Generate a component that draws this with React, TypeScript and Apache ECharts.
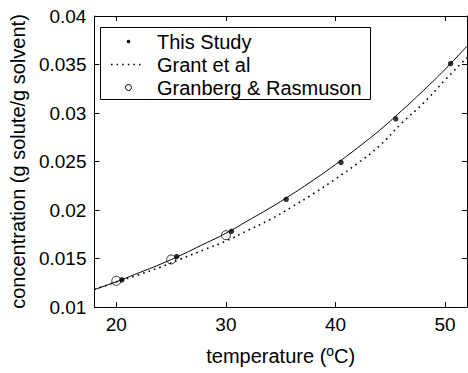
import React, { useEffect, useRef } from 'react';
import * as echarts from 'echarts';

// This Study (measured points)
const studyT = [20.5, 25.5, 30.5, 35.5, 40.5, 45.5, 50.5];
const studyC = [0.0128, 0.0152, 0.0178, 0.0211, 0.0249, 0.0294, 0.0351];
// Granberg & Rasmuson
const granbergT = [20, 25, 30];
const granbergC = [0.0127, 0.0149, 0.0174];
// curves
const curveT = [18, 20, 22, 24, 26, 28, 30, 32, 34, 36, 38, 40, 42, 44, 46, 48, 50, 52];
const fitC = [0.0118, 0.0126, 0.0135, 0.0144, 0.0154, 0.0165, 0.0176, 0.0189, 0.0202, 0.0216, 0.0231, 0.0247, 0.0264, 0.0282, 0.0302, 0.0323, 0.0345, 0.0369];
const grantC = [0.0118, 0.0126, 0.0133, 0.0141, 0.0150, 0.0159, 0.0168, 0.0179, 0.0190, 0.0203, 0.0217, 0.0232, 0.0248, 0.0266, 0.0289, 0.0310, 0.0334, 0.0357];
const xTicks = [20, 30, 40, 50];
const legendNames = ['This Study', 'Grant et al', 'Granberg & Rasmuson'];

const FONT = '"Liberation Sans", Arial, Helvetica, sans-serif';
const FS = 19;
const FT = 20;

export default function App() {
  const ref = useRef<HTMLDivElement>(null);
  useEffect(() => {
    if (!ref.current) return;
    const chart = echarts.init(ref.current, undefined, { renderer: 'svg' });
    const zip = (xs: number[], ys: number[]) => xs.map((x, i) => [x, ys[i]]);
    const axisLine = { show: true, onZero: false, lineStyle: { color: '#000', width: 1 } };
    const tickStyle = { color: '#000', width: 1 };
    chart.setOption({
      animation: false,
      backgroundColor: '#fff',
      textStyle: { fontFamily: FONT },
      grid: { left: 91, right: 1, top: 16, bottom: 58, containLabel: false },
      xAxis: [
        {
          type: 'value', min: 18, max: 52, position: 'bottom',
          axisLine,
          axisTick: { show: true, inside: true, length: 5, customValues: xTicks, lineStyle: tickStyle },
          axisLabel: { customValues: xTicks, color: '#000', fontSize: FS, fontFamily: FONT, margin: 8 },
          splitLine: { show: false },
          name: 'temperature ({sup|o}C)', nameLocation: 'middle', nameGap: 37,
          nameTextStyle: {
            color: '#000', fontSize: FT, fontFamily: FONT, lineHeight: 24,
            rich: { sup: { fontSize: 14, fontFamily: FONT, color: '#000', verticalAlign: 'top', lineHeight: 10 } },
          },
        },
        {
          type: 'value', min: 18, max: 52, position: 'top',
          axisLine,
          axisTick: { show: true, inside: true, length: 5, customValues: xTicks, lineStyle: tickStyle },
          axisLabel: { show: false },
          splitLine: { show: false },
        },
      ],
      yAxis: [
        {
          type: 'value', min: 0.01, max: 0.04, interval: 0.005, position: 'left',
          axisLine,
          axisTick: { show: true, inside: true, length: 5, lineStyle: tickStyle },
          axisLabel: { color: '#000', fontSize: FS, fontFamily: FONT, margin: 8 },
          splitLine: { show: false },
          name: 'concentration (g solute/g solvent)', nameLocation: 'middle', nameGap: 59,
          nameTextStyle: { color: '#000', fontSize: FT, fontFamily: FONT },
        },
        {
          type: 'value', min: 0.01, max: 0.04, interval: 0.005, position: 'right',
          axisLine,
          axisTick: { show: true, inside: true, length: 5, lineStyle: tickStyle },
          axisLabel: { show: false },
          splitLine: { show: false },
        },
      ],
      series: [
        {
          name: 'fit', type: 'line', data: zip(curveT, fitC), smooth: true, showSymbol: false, symbol: 'none',
          lineStyle: { color: '#000', width: 1 }, z: 2,
        },
        {
          name: legendNames[1], type: 'line', data: zip(curveT, grantC), smooth: true, showSymbol: false, symbol: 'none',
          lineStyle: { color: '#000', width: 1.6, type: [1.6, 4.1], cap: 'butt' }, z: 2,
        },
        {
          name: legendNames[0], type: 'scatter', data: zip(studyT, studyC), symbol: 'circle', symbolSize: 5.5,
          itemStyle: { color: '#000' }, z: 4,
        },
        {
          name: legendNames[2], type: 'scatter', data: zip(granbergT, granbergC), symbol: 'circle', symbolSize: 9,
          itemStyle: { color: 'rgba(0,0,0,0)', borderColor: '#000', borderWidth: 1 }, z: 3,
        },
      ],
      graphic: [
        {
          type: 'rect', z: 10, shape: { x: 100.5, y: 27.5, width: 270, height: 72 },
          style: { fill: '#fff', stroke: '#000', lineWidth: 1 },
        },
        { type: 'circle', z: 11, shape: { cx: 128.5, cy: 41.5, r: 1.8 }, style: { fill: '#000' } },
        {
          type: 'line', z: 11, shape: { x1: 111, y1: 64.5, x2: 142, y2: 64.5 },
          style: { stroke: '#000', lineWidth: 1.5, lineDash: [1.5, 4.1] },
        },
        { type: 'circle', z: 11, shape: { cx: 128.5, cy: 87.5, r: 3 }, style: { fill: '#fff', stroke: '#000', lineWidth: 1 } },
        { type: 'text', z: 11, x: 157, y: 42, style: { text: legendNames[0], font: `${FT}px ${FONT}`, fill: '#000', verticalAlign: 'middle' } },
        { type: 'text', z: 11, x: 157, y: 65, style: { text: legendNames[1], font: `${FT}px ${FONT}`, fill: '#000', verticalAlign: 'middle' } },
        { type: 'text', z: 11, x: 157, y: 88, style: { text: legendNames[2], font: `${FT}px ${FONT}`, fill: '#000', verticalAlign: 'middle' } },
      ],
    });
    return () => chart.dispose();
  }, []);
  return <div ref={ref} style={{ position: 'fixed', left: 0, top: 0, width: 468, height: 373 }} />;
}
